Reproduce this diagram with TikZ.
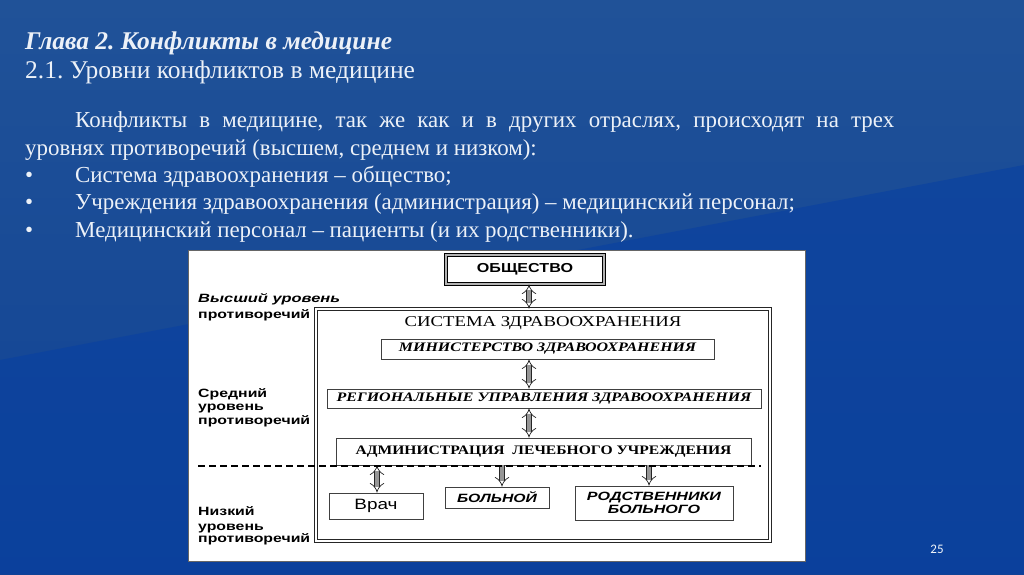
\documentclass[tikz,border=0pt]{standalone}
\usepackage{fontspec}
\setmainfont{Liberation Serif}
\setsansfont{Liberation Sans}
\newfontfamily\numfont{Carlito}
\usetikzlibrary{arrows.meta,positioning}
\frenchspacing

\definecolor{slidetop}{RGB}{32,82,152}
\definecolor{slidebottom}{RGB}{16,66,148}
\definecolor{slidedark}{RGB}{8,64,162}
\definecolor{slidetext}{RGB}{236,241,248}
\definecolor{tubegray}{RGB}{150,150,150}

\newcommand{\wider}[2]{\scalebox{#1}[1]{#2}}

\begin{document}
\begin{tikzpicture}[x=1pt, y=-1pt,
  box/.style={draw=black!75, line width=0.9pt, fill=white, inner sep=0pt},
  tube/.style={draw=black!85, line width=0.7pt, double=tubegray, double distance=4.5pt},
  lvl/.style={anchor=base west, inner sep=0pt, font=\sffamily\bfseries\fontsize{12}{14}\selectfont},
  slidetxt/.style={anchor=base west, inner sep=0pt, text=slidetext, font=\fontsize{22.9}{27}\selectfont}]
  \useasboundingbox (0,0) rectangle (1024,574);

  % background of the slide
  \shade[top color=slidetop, bottom color=slidebottom] (0,0) rectangle (1024,574);
  \fill[slidedark, opacity=0.6] (0,360) -- (1024,165) -- (1024,574) -- (0,574) -- cycle;

  % heading
  \node[slidetxt, font=\bfseries\itshape\fontsize{25.5}{30}\selectfont] (title) at (25,49) {Глава 2. Конфликты в медицине};
  \node[slidetxt, font=\fontsize{25.5}{30}\selectfont] (subtitle) at (25,78) {2.1. Уровни конфликтов в медицине};

  % text of the slide
  \node[slidetxt] (line1) at (75,127) {\makebox[819pt][s]{Конфликты в медицине, так же как и в других отраслях, происходят на трех}};
  \node[slidetxt] (line2) at (25,155) {уровнях противоречий (высшем, среднем и низком):};
  \node[slidetxt] (dot1) at (25,182) {•};
  \node[slidetxt] (item1) at (75,182) {Система здравоохранения – общество;};
  \node[slidetxt] (dot2) at (25,209) {•};
  \node[slidetxt] (item2) at (75,209) {Учреждения здравоохранения (администрация) – медицинский персонал;};
  \node[slidetxt] (dot3) at (25,237) {•};
  \node[slidetxt] (item3) at (75,237) {Медицинский персонал – пациенты (и их родственники).};

  \node[text=slidetext!75, font=\numfont\fontsize{13}{15}\selectfont] (pageno) at (937,549) {25};

  % white panel with the scheme
  \node[draw=black!60, fill=white, line width=0.6pt, minimum width=617, minimum height=311] (panel) at (496.5,405.5) {};

  % levels
  \node[lvl, font=\sffamily\bfseries\itshape\fontsize{12}{14}\selectfont] (high1) at (198,302) {\wider{1.37}{Высший уровень}};
  \node[lvl] (high2) at (198,318) {\wider{1.32}{противоречий}};
  \node[lvl] (mid1) at (198,397) {\wider{1.32}{Средний}};
  \node[lvl] (mid2) at (198,410) {\wider{1.32}{уровень}};
  \node[lvl] (mid3) at (198,424) {\wider{1.32}{противоречий}};
  \node[lvl] (low1) at (198,515) {\wider{1.32}{Низкий}};
  \node[lvl] (low2) at (198,530) {\wider{1.32}{уровень}};
  \node[lvl] (low3) at (198,542) {\wider{1.32}{противоречий}};

  % boxes
  \node[box, draw=black, line width=1pt, double=gray!60, double distance=1.2pt,
        minimum width=158, minimum height=29, font=\sffamily\bfseries\fontsize{13}{15}\selectfont] (soc) at (525,269.5) {\wider{1.24}{ОБЩЕСТВО}};
  \node[box, draw=black!85, line width=1pt, double=white, double distance=2pt,
        minimum width=454, minimum height=232] (sys) at (543,425) {};
  \node[font=\fontsize{15}{17}\selectfont] (systitle) at (543,323) {\wider{1.25}{СИСТЕМА ЗДРАВООХРАНЕНИЯ}};
  \node[box, minimum width=333, minimum height=20, font=\bfseries\itshape\fontsize{13}{15}\selectfont] (min) at (547.5,349) {\wider{1.23}{МИНИСТЕРСТВО ЗДРАВООХРАНЕНИЯ}};
  \node[box, minimum width=434, minimum height=19, font=\bfseries\itshape\fontsize{13}{15}\selectfont] (reg) at (544,398.5) {\wider{1.23}{РЕГИОНАЛЬНЫЕ УПРАВЛЕНИЯ ЗДРАВООХРАНЕНИЯ}};
  \node[box, minimum width=415, minimum height=27, font=\bfseries\fontsize{13}{15}\selectfont] (adm) at (543.5,451.5) {\wider{1.2}{АДМИНИСТРАЦИЯ\ \ ЛЕЧЕБНОГО УЧРЕЖДЕНИЯ}};
  \node[box, minimum width=94, minimum height=26, font=\sffamily\fontsize{15}{17}\selectfont] (doc) at (376,506) {\wider{1.26}{Врач}};
  \node[box, minimum width=104, minimum height=21, font=\sffamily\bfseries\itshape\fontsize{12}{14}\selectfont] (pat) at (497,497.5) {\wider{1.31}{БОЛЬНОЙ}};
  \node[box, minimum width=158, minimum height=34, align=center, font=\sffamily\bfseries\itshape\fontsize{12}{12.5}\selectfont] (rel) at (654,503) {\wider{1.34}{РОДСТВЕННИКИ}\\\wider{1.34}{БОЛЬНОГО}};

  % arrows
  \coordinate (ax) at (529,0);
  \coordinate (docx) at (377,0);
  \coordinate (patx) at (502,0);
  \coordinate (relx) at (649,0);
  \draw[tube, {Implies}-{Implies}] (soc.south -| ax) -- (sys.north -| ax);
  \draw[tube, {Implies}-{Implies}] (min.south -| ax) -- (reg.north -| ax);
  \draw[tube, {Implies}-{Implies}] (reg.south -| ax) -- (adm.north -| ax);
  \draw[tube, {Implies}-{Implies}] (adm.south -| docx) -- (doc.north -| docx);
  \draw[tube, -{Implies}] (adm.south -| patx) -- (pat.north -| patx);
  \draw[tube, -{Implies}] (adm.south -| relx) -- (rel.north -| relx);

  % border between middle and low level
  \coordinate (dashL) at (198,466);
  \coordinate (dashR) at (761,466);
  \draw[dash pattern=on 7pt off 4pt, line width=1.1pt] (dashL) -- (dashR);
\end{tikzpicture}
\end{document}
